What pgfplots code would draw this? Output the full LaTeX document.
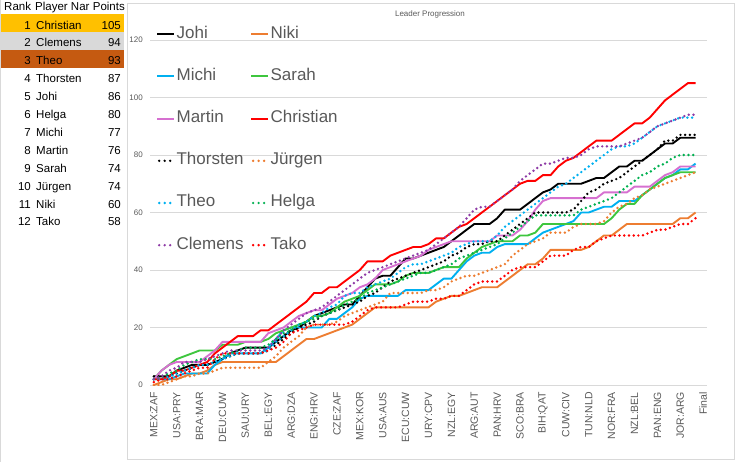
\documentclass[border=0pt]{standalone}
\usepackage{fontspec}
\setmainfont{Liberation Sans}
\usepackage{pgfplots}
\usepackage{pgfplotstable}
\pgfplotsset{compat=1.18}
\definecolor{txt}{HTML}{595959}
\definecolor{gridc}{HTML}{D9D9D9}
\definecolor{cgold}{HTML}{FFC000}
\definecolor{cgray}{HTML}{D9D9D9}
\definecolor{cbrown}{HTML}{C55A11}
\definecolor{corange}{HTML}{ED7D31}
\definecolor{cblue}{HTML}{00B0F0}
\definecolor{cgreen}{HTML}{3EC63E}
\definecolor{cdgreen}{HTML}{00B050}
\definecolor{corchid}{HTML}{D670D0}
\definecolor{cred}{HTML}{FF0000}
\definecolor{cpurple}{HTML}{8E3BA6}
\pgfplotsset{
  solidl/.style={line width=1.9pt, line join=round, mark=none},
  dotl/.style={line width=2.7pt, line cap=round, dash pattern=on 0pt off 4.7pt, mark=none,
    legend image code/.code={\draw[##1, dash pattern=on 0pt off 5.5pt] (2pt,0pt) -- (15pt,0pt);}},
}
\pgfplotstableread{
i  J  N  Mi S  M  C   Th Ju T  H  Cl Ta
0  3  0  2  2  2  2   3  0  2  2  2  1
1  3  1  2  5  5  2   3  0  2  3  3  2
2  3  2  2  7  7  3   3  1  3  4  5  2
3  5  2  3  9  8  5   4  2  4  5  6  3
4  6  3  4  10 8  5   5  3  5  7  8  4
5  7  4  4  11 8  6   6  3  6  8  8  5
6  7  4  4  12 8  7   7  4  7  9  8  6
7  7  5  4  12 10 8   7  4  7  9  9  6
8  8  7  7  12 12 11  8  5  8  9  10 9
9  9  8  9  14 15 13  9  6  9  10 11 11
10 11 8  11 14 15 15  10 6  10 11 12 11
11 12 8  11 14 15 17  11 6  11 12 12 11
12 13 8  11 15 15 17  11 6  11 13 12 11
13 13 8  11 15 15 17  11 6  11 13 12 11
14 13 8  11 15 15 19  11 6  11 13 12 11
15 13 8  13 16 18 19  12 8  12 14 13 12
16 15 8  16 18 19 21  14 10 15 16 16 13
17 17 10 19 19 20 23  16 13 17 18 19 15
18 19 12 20 20 22 25  18 15 19 19 21 18
19 20 14 20 21 24 27  20 17 21 21 23 19
20 22 16 20 22 25 29  21 20 22 22 25 20
21 24 16 20 24 26 32  22 21 24 23 26 21
22 25 17 20 24 26 32  24 21 25 24 27 21
23 26 18 23 25 28 34  25 21 27 25 29 21
24 27 19 23 27 30 34  26 22 28 26 31 21
25 28 20 25 29 31 36  27 24 31 28 33 21
26 28 21 27 30 32 38  28 25 32 29 35 22
27 31 23 30 31 34 40  29 26 32 30 37 24
28 34 25 31 33 35 43  31 27 34 32 39 26
29 37 27 31 35 37 43  32 28 35 33 40 27
30 38 27 31 35 40 43  34 29 36 34 41 27
31 38 27 31 35 41 45  36 32 37 35 42 27
32 41 27 31 36 42 46  37 32 39 36 43 27
33 44 27 33 38 43 47  38 32 41 37 44 28
34 44 27 33 39 44 48  39 32 42 38 45 29
35 45 27 33 39 45 48  40 32 42 39 46 29
36 46 27 33 39 47 49  41 33 43 39 47 29
37 47 29 35 40 48 51  42 33 44 40 49 30
38 48 30 37 41 49 51  43 34 45 41 51 30
39 50 31 37 41 50 53  45 36 46 42 53 31
40 52 31 40 41 50 55  46 37 48 44 55 31
41 54 32 43 44 50 56  48 38 49 45 58 33
42 56 33 45 46 50 58  49 38 50 46 61 35
43 56 34 46 48 50 60  49 39 50 47 62 36
44 56 34 46 49 50 62  50 40 50 48 62 36
45 58 34 48 50 52 64  50 41 52 49 64 36
46 61 36 49 50 52 66  52 42 55 51 66 38
47 61 38 49 50 52 68  54 45 57 53 68 40
48 61 40 49 52 54 70  56 47 59 55 71 41
49 63 42 49 52 57 71  58 49 61 57 73 41
50 65 42 51 53 61 71  60 50 63 59 75 41
51 67 44 53 56 64 73  60 51 65 59 77 43
52 68 47 54 56 65 73  60 53 67 59 77 45
53 70 47 55 56 65 76  60 53 69 59 78 45
54 70 47 56 56 65 78  60 53 70 59 79 45
55 70 47 57 56 65 79  61 55 72 59 79 47
56 70 47 60 56 65 81  64 56 74 61 80 48
57 71 48 60 56 65 83  67 56 76 62 82 48
58 72 50 61 56 65 85  68 56 78 63 83 50
59 72 52 62 56 67 85  70 57 80 64 83 51
60 74 52 62 58 67 85  71 60 82 65 83 52
61 76 54 64 61 67 87  72 62 83 67 83 52
62 76 56 64 63 67 89  74 63 83 69 84 52
63 78 56 64 63 69 91  76 65 84 71 85 52
64 78 56 66 66 69 91  78 66 86 73 86 52
65 80 56 68 68 69 93  80 68 88 74 88 53
66 82 56 70 70 71 96  82 69 90 76 90 54
67 84 56 72 72 73 99  85 70 91 77 91 54
68 84 56 73 73 74 101 85 71 92 79 92 55
69 86 58 75 74 76 103 87 72 93 80 93 56
70 86 58 75 74 76 105 87 73 93 80 94 56
71 86 60 77 74 76 105 87 74 93 80 94 58
}\data

\begin{document}
\begin{tikzpicture}
\useasboundingbox (0pt,0pt) rectangle (736pt,-462pt);
% ranking table
\fill[cgold] (1pt,-14pt) rectangle (124pt,-32pt);
\fill[cgray] (1pt,-32pt) rectangle (124pt,-50pt);
\fill[cbrown] (1pt,-50pt) rectangle (124pt,-68.5pt);
\draw[gridc, line width=0.8pt] (0.5pt,0pt) -- (0.5pt,-462pt);
\begin{scope}[every node/.style={font=\fontsize{11.5}{13}\selectfont, inner sep=0pt, text=black}]
\node[anchor=base west] at (4pt,-11pt) {Rank};
\node[anchor=base west] at (35pt,-11pt) {Player Nar};
\node[anchor=base east] at (125pt,-11pt) {Points};
\foreach \r/\n/\p in {1/Christian/105,2/Clemens/94,3/Theo/93,4/Thorsten/87,5/Johi/86,6/Helga/80,7/Michi/77,8/Martin/76,9/Sarah/74,10/Jürgen/74,11/Niki/60,12/Tako/58}{
  \node[anchor=base east] at (31pt,{-29.1pt-17.9pt*(\r-1)}) {\r};
  \node[anchor=base west] at (36pt,{-29.1pt-17.9pt*(\r-1)}) {\n};
  \node[anchor=base east] at (121pt,{-29.1pt-17.9pt*(\r-1)}) {\p};
}
\end{scope}
% chart area
\draw[gridc, line width=0.8pt] (127pt,-3pt) rectangle (734pt,-459pt);
\node[font=\fontsize{8}{9}\selectfont, text=txt, inner sep=0pt] at (430pt,-14pt) {Leader Progression};
\begin{axis}[
  at={(150pt,-385pt)}, anchor=south west,
  scale only axis, width=557pt, height=345pt,
  xmin=-0.5, xmax=72.5, ymin=0, ymax=120,
  xtick={0,3,...,72},
  xticklabels={MEX:ZAF,USA:PRY,BRA:MAR,DEU:CUW,SAU:URY,BEL:EGY,ARG:DZA,ENG:HRV,CZE:ZAF,MEX:KOR,USA:AUS,ECU:CUW,URY:CPV,NZL:EGY,ARG:AUT,PAN:HRV,SCO:BRA,BIH:QAT,CUW:CIV,TUN:NLD,NOR:FRA,NZL:BEL,PAN:ENG,JOR:ARG,Final},
  ytick={0,20,...,120},
  ymajorgrids, grid style={color=gridc, line width=0.8pt},
  axis line style={draw=none},
  major tick length=0pt,
  tick label style={text=txt},
  xticklabel style={rotate=90, anchor=east, font=\fontsize{10.5}{12}\selectfont, inner sep=0pt, xshift=1.5pt},
  xticklabel shift=8.5pt,
  yticklabel style={font=\fontsize{8}{9}\selectfont, inner sep=0pt},
  yticklabel shift=7pt,
  /pgf/number format/assume math mode=true,
  legend columns=2,
  legend cell align=left,
  legend image code/.code={\draw[#1] (0pt,0pt) -- (17pt,0pt);},
  legend style={draw=none, fill=none, at={(rel axis cs:0,1)}, anchor=north west,
    xshift=6pt, yshift=14pt, font=\fontsize{17}{18}\selectfont, text=txt,
    row sep=26.2pt, inner sep=0pt,
    nodes={inner xsep=1.5pt, inner ysep=0pt, text height=12pt, text depth=4pt},
    /tikz/every even column/.append style={column sep=5pt}},
]
\addplot[black, solidl] table[x=i,y=J]{\data}; \addlegendentry{Johi}
\addplot[corange, solidl] table[x=i,y=N]{\data}; \addlegendentry{Niki}
\addplot[cblue, solidl] table[x=i,y=Mi]{\data}; \addlegendentry{Michi}
\addplot[cgreen, solidl] table[x=i,y=S]{\data}; \addlegendentry{Sarah}
\addplot[corchid, solidl] table[x=i,y=M]{\data}; \addlegendentry{Martin}
\addplot[cred, solidl] table[x=i,y=C]{\data}; \addlegendentry{Christian}
\addplot[black, dotl] table[x=i,y=Th]{\data}; \addlegendentry{Thorsten}
\addplot[corange, dotl] table[x=i,y=Ju]{\data}; \addlegendentry{Jürgen}
\addplot[cblue, dotl] table[x=i,y=T]{\data}; \addlegendentry{Theo}
\addplot[cdgreen, dotl] table[x=i,y=H]{\data}; \addlegendentry{Helga}
\addplot[cpurple, dotl] table[x=i,y=Cl]{\data}; \addlegendentry{Clemens}
\addplot[cred, dotl] table[x=i,y=Ta]{\data}; \addlegendentry{Tako}
\end{axis}
\end{tikzpicture}
\end{document}
